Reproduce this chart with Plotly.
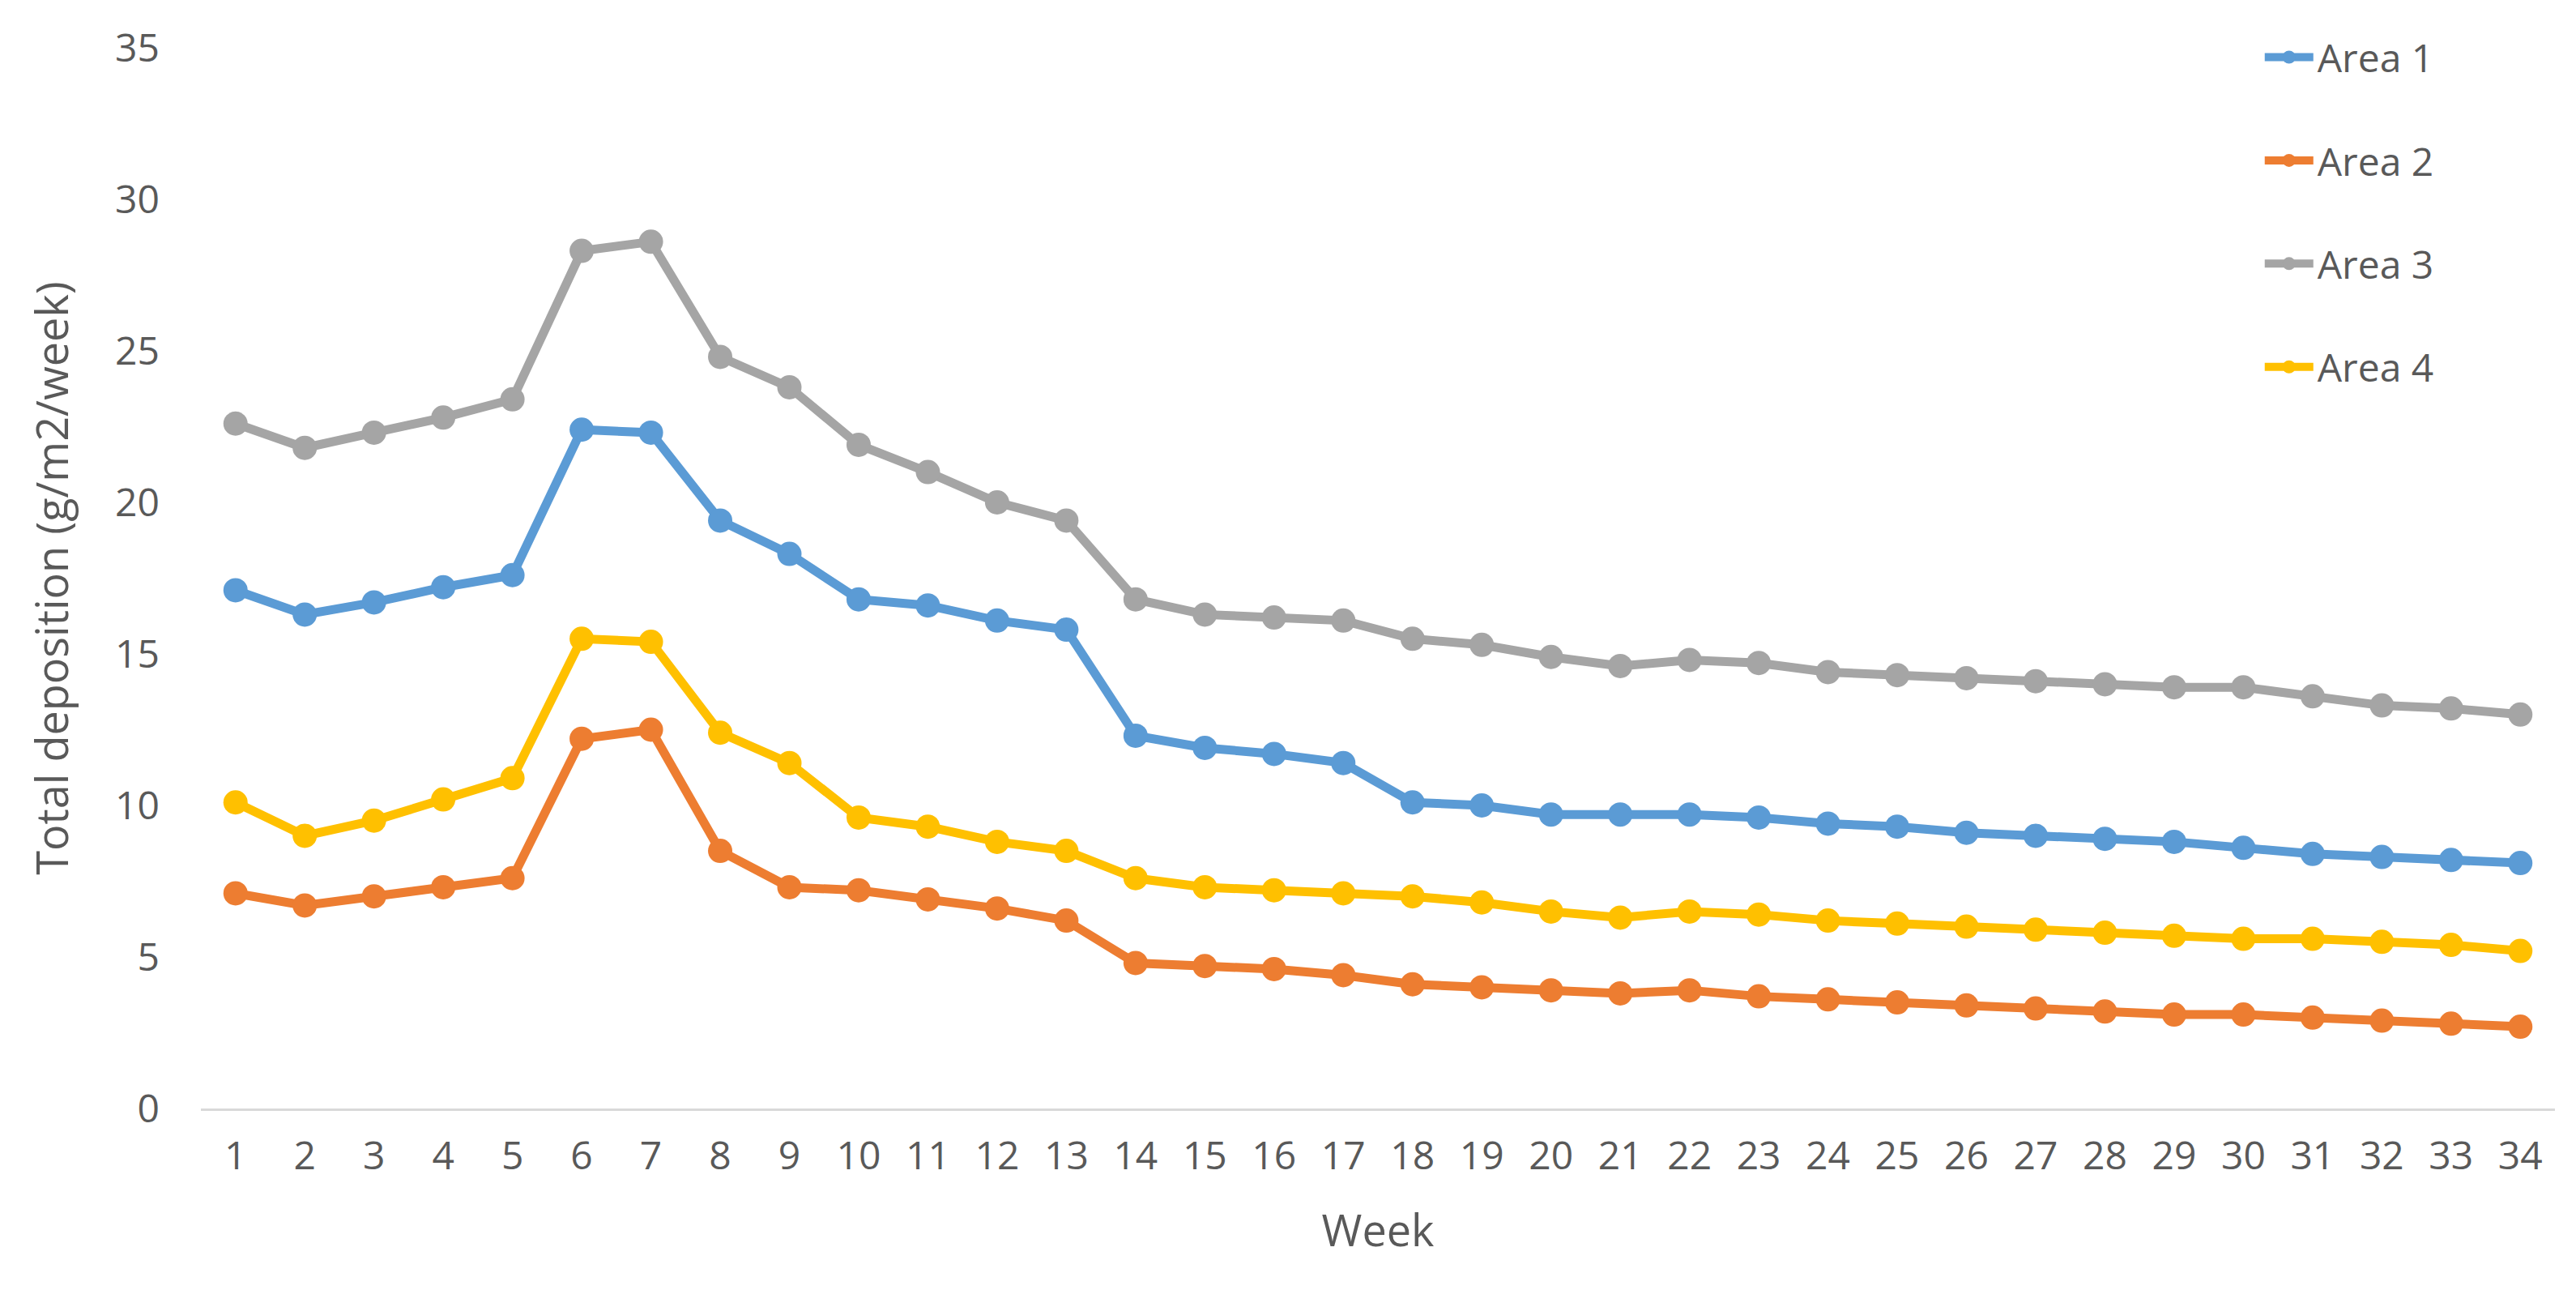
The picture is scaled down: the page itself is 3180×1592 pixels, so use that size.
import plotly.graph_objects as go

weeks = list(range(1, 35))
area1 = [17.1,16.3,16.7,17.2,17.6,22.4,22.3,19.4,18.3,16.8,16.6,16.1,15.8,12.3,11.9,11.7,11.4,10.1,10.0,9.7,9.7,9.7,9.6,9.4,9.3,9.1,9.0,8.9,8.8,8.6,8.4,8.3,8.2,8.1]
area2 = [7.1,6.7,7.0,7.3,7.6,12.2,12.5,8.5,7.3,7.2,6.9,6.6,6.2,4.8,4.7,4.6,4.4,4.1,4.0,3.9,3.8,3.9,3.7,3.6,3.5,3.4,3.3,3.2,3.1,3.1,3.0,2.9,2.8,2.7]
area3 = [22.6,21.8,22.3,22.8,23.4,28.3,28.6,24.8,23.8,21.9,21.0,20.0,19.4,16.8,16.3,16.2,16.1,15.5,15.3,14.9,14.6,14.8,14.7,14.4,14.3,14.2,14.1,14.0,13.9,13.9,13.6,13.3,13.2,13.0]
area4 = [10.1,9.0,9.5,10.2,10.9,15.5,15.4,12.4,11.4,9.6,9.3,8.8,8.5,7.6,7.3,7.2,7.1,7.0,6.8,6.5,6.3,6.5,6.4,6.2,6.1,6.0,5.9,5.8,5.7,5.6,5.6,5.5,5.4,5.2]
names = ["Area 1", "Area 2", "Area 3", "Area 4"]
colors = ["#5B9BD5", "#ED7D31", "#A5A5A5", "#FFC000"]

fig = go.Figure()
for n, ys, c in zip(names, [area1, area2, area3, area4], colors):
    fig.add_trace(go.Scatter(x=weeks, y=ys, name=n, mode="lines+markers", legendgroup=n,
                             line=dict(color=c, width=11),
                             marker=dict(color=c, size=30)))

font_color = "#595959"
fig.update_layout(
    width=3180, height=1592,
    paper_bgcolor="white", plot_bgcolor="white",
    margin=dict(l=240, r=34, t=51, b=232),
    font=dict(family="Open Sans, sans-serif", size=48, color=font_color),
    legend=dict(x=0.875, y=1.02, xanchor="left", yanchor="top",
                bgcolor="rgba(0,0,0,0)", font=dict(size=48, color=font_color),
                tracegroupgap=62, itemwidth=60),
    xaxis=dict(title=dict(text="Week", font=dict(size=54), standoff=45),
               range=[0.5, 34.5], tickmode="array", tickvals=weeks,
               showgrid=False, showline=True, linecolor="#D9D9D9", linewidth=3,
               ticks="", zeroline=False, ticklabelstandoff=14),
    yaxis=dict(title=dict(text="Total deposition (g/m2/week)", font=dict(size=54), standoff=40),
               range=[0, 35], dtick=5, showgrid=False, zeroline=False,
               showline=False, ticks="", ticklabelstandoff=50),
)
fig.write_html("out.html")
